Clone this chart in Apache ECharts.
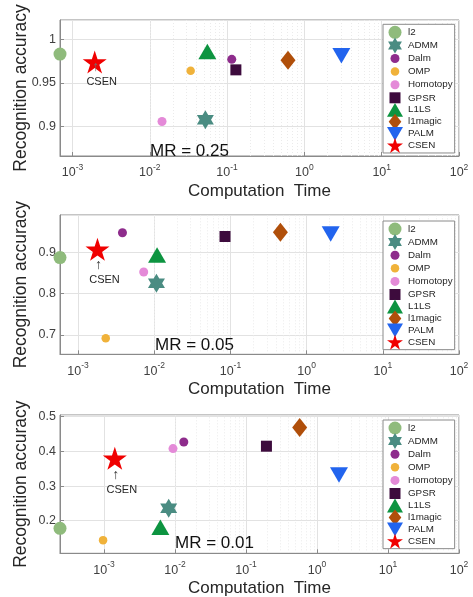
<!DOCTYPE html>
<html><head><meta charset="utf-8">
<script src="https://cdn.jsdelivr.net/npm/echarts@6/dist/echarts.min.js"></script>
<style>html,body{margin:0;padding:0;background:#fff}#c{width:473px;height:597px}</style>
</head><body><div id="c"></div>
<script>
// ---------- data ----------
const methods = ['l2','ADMM','Dalm','OMP','Homotopy','GPSR','L1LS','l1magic','PALM','CSEN'];
const timeMR025 = [0.00069, 0.0524, 0.115, 0.0338, 0.0144, 0.130, 0.0556, 0.614, 3.01, 0.00194];
const accMR025  = [0.983, 0.908, 0.977, 0.964, 0.906, 0.965, 0.986, 0.976, 0.981, 0.974];
const timeMR005 = [0.00058, 0.0107, 0.00383, 0.00231, 0.00728, 0.0849, 0.0109, 0.453, 2.07, 0.0018];
const accMR005  = [0.887, 0.825, 0.947, 0.692, 0.852, 0.938, 0.893, 0.948, 0.944, 0.907];
const timeMR001 = [0.00024, 0.00815, 0.0133, 0.00097, 0.00937, 0.194, 0.00622, 0.570, 2.04, 0.00142];
const accMR001  = [0.178, 0.236, 0.427, 0.144, 0.408, 0.415, 0.181, 0.469, 0.332, 0.380];
const panelTitles = ['MR = 0.25', 'MR = 0.05', 'MR = 0.01'];
const xMinVals = [0.00069, 0.00058, 0.00024];
const xMaxVals = [100, 100, 100];
const yMinVals = [0.8665, 0.653, 0.106];
const yMaxVals = [1.022, 0.99, 0.505];
const ySplit = [3, 3, 4];
const decades = [1e-4, 1e-3, 1e-2, 1e-1, 1, 10];
const xName = 'Computation  Time';
const yName = 'Recognition accuracy';

// ---------- styles ----------
const FONT = '"Liberation Sans", Arial, Helvetica, sans-serif';
const HEX = 'path://M0,-10L2.887,-5L8.66,-5L5.774,0L8.66,5L2.887,5L0,10L-2.887,5L-8.66,5L-5.774,0L-8.66,-5L-2.887,-5Z';
const STAR = 'path://M0,-10L2.245,-3.09L9.511,-3.09L3.633,1.18L5.878,8.09L0,3.82L-5.878,8.09L-3.633,1.18L-9.511,-3.09L-2.245,-3.09Z';
const TRI_UP = 'path://M0,-7.75L9,7.75L-9,7.75Z';
const TRI_DN = 'path://M-9,-7.75L9,-7.75L0,7.75Z';
const DIAM = 'path://M0,-9.5L7.5,0L0,9.5L-7.5,0Z';
function boxedCircle(r, B) {
  const h = B / 2;
  return `path://M${-h},${-h}M${h},${h}M${r},0A${r},${r},0,1,1,${-r},0A${r},${r},0,1,1,${r},0Z`;
}
function boxedSquare(s, B) {
  const h = B / 2, a = s / 2;
  return `path://M${-h},${-h}M${h},${h}M${-a},${-a}L${a},${-a}L${a},${a}L${-a},${a}Z`;
}
const styles = {
  l2:       {symbol: 'circle', size: 13, color: '#8fbb7c', icon: boxedCircle(6.5, 16)},
  ADMM:     {symbol: HEX, size: [17, 19], color: '#4a8c82', icon: HEX},
  Dalm:     {symbol: 'circle', size: 9, color: '#8e2c8c', icon: boxedCircle(4.5, 16)},
  OMP:      {symbol: 'circle', size: 8.5, color: '#f0b23a', icon: boxedCircle(4.25, 16)},
  Homotopy: {symbol: 'circle', size: 9, color: '#e48ad8', icon: boxedCircle(4.5, 16)},
  GPSR:     {symbol: 'rect', size: 11, color: '#3d0b3d', icon: boxedSquare(11, 16)},
  L1LS:     {symbol: TRI_UP, size: [18, 15.5], color: '#0d9440', icon: TRI_UP},
  l1magic:  {symbol: DIAM, size: [15, 19], color: '#b04f0a', icon: DIAM},
  PALM:     {symbol: TRI_DN, size: [18, 15.5], color: '#2264ee', icon: TRI_DN},
  CSEN:     {symbol: STAR, size: [24, 23], color: '#f00000', icon: STAR}
};

const panels = [
  {time: timeMR025, acc: accMR025},
  {time: timeMR005, acc: accMR005},
  {time: timeMR001, acc: accMR001}
];
const gridBoxes = [
  {left: 60, top: 20, width: 399, height: 136},
  {left: 60, top: 215, width: 399, height: 139.3},
  {left: 60, top: 415, width: 399, height: 138.3}
];
const legendTops = [24.3, 221, 420];
const mrPos = [[150, 143], [155, 336.5], [175, 534.8]];
const csenOffsets = [[7, -10], [7, 1], [7, 2]];

const chart = echarts.init(document.getElementById('c'), null, {renderer: 'canvas'});

const grids = [], xAxes = [], yAxes = [], series = [], legends = [], graphics = [];

panels.forEach((p, k) => {
  grids.push(Object.assign({show: true, borderColor: '#8a8a8a', borderWidth: 1, backgroundColor: 'transparent', containLabel: false, outerBoundsMode: 'none'}, gridBoxes[k]));
  xAxes.push({
    type: 'log', logBase: 10, gridIndex: k, min: xMinVals[k], max: xMaxVals[k],
    name: xName, nameLocation: 'middle', nameGap: 27, nameMoveOverlap: false,
    nameTextStyle: {fontSize: 17, color: '#262626', fontFamily: FONT},
    axisLine: {show: true, lineStyle: {color: '#8a8a8a'}},
    axisTick: {show: true, inside: true, length: 4, lineStyle: {color: '#8a8a8a'}},
    splitLine: {show: true, lineStyle: {color: '#e2e2e2', width: 1}},
    axisLabel: {
      margin: 7, showMinLabel: false,
      formatter: v => {
        const l = Math.log10(v), e = Math.round(l);
        if (Math.abs(l - e) > 1e-6) return '';
        return '{b|10}{s|' + e + '}';
      },
      rich: {
        b: {fontSize: 12.5, lineHeight: 20, color: '#404040', fontFamily: FONT},
        s: {fontSize: 8.5, lineHeight: 8, verticalAlign: 'top', color: '#404040', fontFamily: FONT}
      }
    }
  });
  yAxes.push({
    type: 'value', gridIndex: k, min: yMinVals[k], max: yMaxVals[k], splitNumber: ySplit[k],
    name: yName, nameLocation: 'middle', nameGap: 30, nameMoveOverlap: false,
    nameTextStyle: {fontSize: 17.5, color: '#262626', fontFamily: FONT},
    axisLine: {show: true, lineStyle: {color: '#8a8a8a'}},
    axisTick: {show: true, inside: true, length: 4, lineStyle: {color: '#8a8a8a'}},
    splitLine: {show: true, lineStyle: {color: '#e2e2e2', width: 1}},
    axisLabel: {
      margin: 4, showMinLabel: false, showMaxLabel: false,
      fontSize: 12.5, color: '#404040', fontFamily: FONT,
      formatter: v => String(+(+v).toFixed(4))
    }
  });
  // minor grid lines (2..9 x each decade)
  const minor = [];
  decades.forEach(d => { for (let m = 2; m <= 9; m++) { const v = m * d; if (v > xMinVals[k] && v < xMaxVals[k]) minor.push({xAxis: v}); } });
  series.push({
    type: 'line', name: 'minorGrid' + k, xAxisIndex: k, yAxisIndex: k, data: [], z: 0, silent: true,
    markLine: {silent: true, symbol: 'none', z: 0, animation: false, label: {show: false},
      lineStyle: {color: '#ebebeb', width: 1, type: [1, 2]}, emphasis: {disabled: true}, data: minor}
  });
  methods.forEach((m, i) => {
    const st = styles[m];
    const s = {
      type: 'scatter', name: m, xAxisIndex: k, yAxisIndex: k, clip: false, z: 3,
      data: [[p.time[i], p.acc[i]]],
      symbol: st.symbol, symbolSize: st.size,
      itemStyle: {color: st.color, opacity: 1},
      emphasis: {disabled: true}
    };
    if (m === 'CSEN') {
      s.z = 4;
      s.label = {
        show: true, position: 'bottom', distance: -5, offset: csenOffsets[k],
        formatter: '{a|↑}\n{b|CSEN}', align: 'center',
        rich: {
          a: {fontSize: 14, lineHeight: 17, color: k === 0 ? '#707070' : '#333', padding: [0, 12, 0, 0], fontFamily: FONT},
          b: {fontSize: 11, lineHeight: 13, color: '#262626', fontFamily: FONT}
        }
      };
    }
    series.push(s);
  });
  legends.push({
    orient: 'vertical', left: 383, top: legendTops[k],
    itemWidth: 16, itemHeight: 16, itemGap: -2.9,
    padding: [0, 2, 0, 4], selectedMode: false,
    backgroundColor: '#fff', borderColor: '#8a8a8a', borderWidth: 1,
    textStyle: {fontSize: 9.8, color: '#262626', fontFamily: FONT, padding: [0, 0, 0, 0]},
    symbolKeepAspect: true,
    data: methods.map(m => ({name: m, icon: styles[m].icon}))
  });
  graphics.push({
    type: 'text', left: mrPos[k][0], top: mrPos[k][1], z: 10,
    style: {text: panelTitles[k], font: '17px ' + FONT, fill: '#111'}
  });
});

chart.setOption({
  animation: false,
  backgroundColor: '#fff',
  grid: grids, xAxis: xAxes, yAxis: yAxes, series: series, legend: legends, graphic: graphics
});
</script></body></html>
